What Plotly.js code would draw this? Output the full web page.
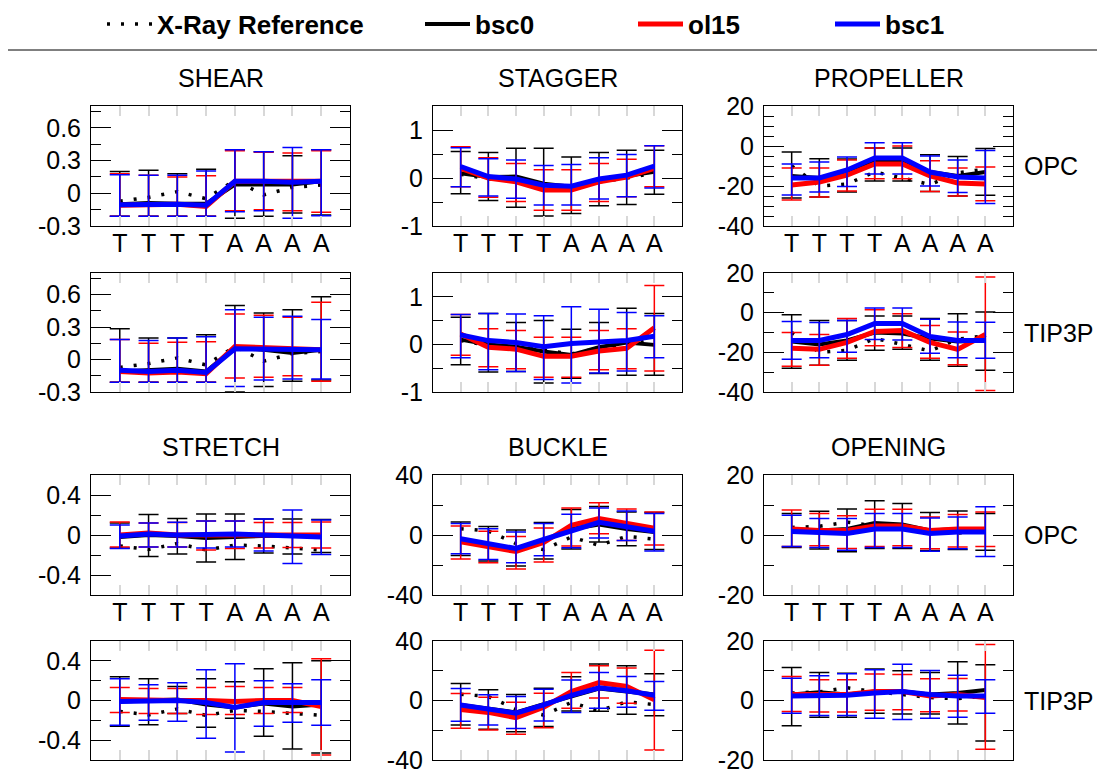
<!DOCTYPE html>
<html><head><meta charset="utf-8">
<script src="https://cdn.plot.ly/plotly-3.0.1.min.js"></script>
<style>html,body{margin:0;padding:0;background:#fff}#chart{width:1097px;height:774px}</style>
</head><body><div id="chart"></div>
<script>
// ---------- DATA ----------
const categories = ['T','T','T','T','A','A','A','A'];
const seriesNames = ['X-Ray Reference','bsc0','ol15','bsc1'];
const solvents = ['OPC','TIP3P'];

// X-ray reference (same in OPC and TIP3P panels)
const XRAY_SHEAR     = [-0.073,-0.037,0.015,-0.05,0.12,-0.015,0.055,0.075];
const XRAY_STAGGER   = [0.08,-0.02,-0.04,-0.12,-0.2,-0.08,0.0,0.1];
const XRAY_PROPELLER = [-10,-20,-19,-13,-16,-19.3,-13.4,-11.6];
const XRAY_STRETCH   = [-0.11,-0.145,-0.085,-0.15,-0.10,-0.11,-0.13,-0.15];
const XRAY_BUCKLE    = [4.2,2.7,-5.8,-9.8,-1.3,-6.9,-0.9,-2.7];
const XRAY_OPENING   = [2.5,2.9,4.3,3,2,1,0.6,1.5];

// SHEAR OPC
const SHEAR_OPC_bsc0 = [-0.10,-0.09,-0.095,-0.095,0.08,0.08,0.08,0.11];
const SHEAR_OPC_bsc0_hi = [0.20,0.21,0.18,0.22,0.40,0.38,0.345,0.40];
const SHEAR_OPC_bsc0_lo = [-0.21,-0.21,-0.21,-0.21,-0.23,-0.21,-0.18,-0.20];
const SHEAR_OPC_ol15 = [-0.11,-0.10,-0.10,-0.12,0.11,0.11,0.11,0.11];
const SHEAR_OPC_ol15_hi = [0.18,0.165,0.15,0.16,0.39,0.375,0.37,0.39];
const SHEAR_OPC_ol15_lo = [-0.21,-0.21,-0.21,-0.21,-0.16,-0.15,-0.16,-0.175];
const SHEAR_OPC_bsc1 = [-0.105,-0.10,-0.10,-0.11,0.11,0.11,0.10,0.11];
const SHEAR_OPC_bsc1_hi = [0.17,0.165,0.165,0.205,0.40,0.38,0.42,0.40];
const SHEAR_OPC_bsc1_lo = [-0.21,-0.21,-0.21,-0.21,-0.17,-0.16,-0.23,-0.205];
// SHEAR TIP3P
const SHEAR_TIP3P_bsc0 = [-0.11,-0.10,-0.085,-0.11,0.11,0.09,0.06,0.09];
const SHEAR_TIP3P_bsc0_hi = [0.285,0.20,0.20,0.23,0.50,0.43,0.46,0.58];
const SHEAR_TIP3P_bsc0_lo = [-0.21,-0.21,-0.21,-0.21,-0.30,-0.25,-0.20,-0.19];
const SHEAR_TIP3P_ol15 = [-0.11,-0.125,-0.115,-0.13,0.12,0.11,0.11,0.09];
const SHEAR_TIP3P_ol15_hi = [0.186,0.15,0.16,0.165,0.42,0.41,0.39,0.53];
const SHEAR_TIP3P_ol15_lo = [-0.21,-0.21,-0.21,-0.21,-0.17,-0.164,-0.15,-0.20];
const SHEAR_TIP3P_bsc1 = [-0.10,-0.11,-0.10,-0.12,0.10,0.10,0.10,0.09];
const SHEAR_TIP3P_bsc1_hi = [0.186,0.176,0.20,0.21,0.46,0.39,0.40,0.37];
const SHEAR_TIP3P_bsc1_lo = [-0.21,-0.21,-0.21,-0.21,-0.25,-0.19,-0.18,-0.18];

// STAGGER OPC
const STAGGER_OPC_bsc0 = [0.10,0.02,0.03,-0.12,-0.18,-0.05,0.04,0.13];
const STAGGER_OPC_bsc0_hi = [0.55,0.53,0.62,0.62,0.44,0.53,0.58,0.58];
const STAGGER_OPC_bsc0_lo = [-0.33,-0.47,-0.61,-0.79,-0.74,-0.58,-0.55,-0.34];
const STAGGER_OPC_ol15 = [0.20,0.00,-0.08,-0.25,-0.25,-0.08,0.02,0.20];
const STAGGER_OPC_ol15_hi = [0.65,0.42,0.30,0.17,0.17,0.30,0.39,0.67];
const STAGGER_OPC_ol15_lo = [-0.18,-0.40,-0.49,-0.67,-0.67,-0.49,-0.39,-0.18];
const STAGGER_OPC_bsc1 = [0.24,0.03,-0.02,-0.15,-0.17,-0.02,0.06,0.25];
const STAGGER_OPC_bsc1_hi = [0.63,0.40,0.375,0.26,0.28,0.42,0.49,0.67];
const STAGGER_OPC_bsc1_lo = [-0.18,-0.375,-0.42,-0.56,-0.56,-0.44,-0.39,-0.21];
// STAGGER TIP3P
const STAGGER_TIP3P_bsc0 = [0.10,0.00,-0.05,-0.15,-0.22,-0.06,0.04,-0.01];
const STAGGER_TIP3P_bsc0_hi = [0.57,0.65,0.46,0.50,0.32,0.46,0.76,0.65];
const STAGGER_TIP3P_bsc0_lo = [-0.43,-0.58,-0.57,-0.81,-0.71,-0.61,-0.65,-0.65];
const STAGGER_TIP3P_ol15 = [0.22,-0.06,-0.10,-0.25,-0.25,-0.14,-0.08,0.35];
const STAGGER_TIP3P_ol15_hi = [0.63,0.33,0.29,0.15,0.15,0.29,0.33,1.24];
const STAGGER_TIP3P_ol15_lo = [-0.23,-0.47,-0.51,-0.69,-0.69,-0.53,-0.51,-0.56];
const STAGGER_TIP3P_bsc1 = [0.20,0.08,0.04,-0.05,0.02,0.06,0.08,0.17];
const STAGGER_TIP3P_bsc1_hi = [0.63,0.65,0.64,0.60,0.79,0.74,0.67,0.60];
const STAGGER_TIP3P_bsc1_lo = [-0.28,-0.53,-0.57,-0.74,-0.81,-0.60,-0.56,-0.28];

// PROPELLER OPC
const PROPELLER_OPC_bsc0 = [-15,-16,-13,-7,-7,-13,-15,-13];
const PROPELLER_OPC_bsc0_hi = [-3,-6.4,-6.5,-1,-1,-4.4,-5.2,-1.3];
const PROPELLER_OPC_bsc0_lo = [-26,-25.5,-23,-17.5,-17.5,-22.8,-25,-24.6];
const PROPELLER_OPC_ol15 = [-19.5,-18,-14.5,-9,-9,-15,-18.5,-19];
const PROPELLER_OPC_ol15_hi = [-11,-11,-7,-1,0,-7.4,-11,-10.5];
const PROPELLER_OPC_ol15_lo = [-27,-25.5,-22.5,-16.4,-16.4,-22.8,-25,-27.4];
const PROPELLER_OPC_bsc1 = [-16,-16,-12,-6,-6,-13,-15.5,-16];
const PROPELLER_OPC_bsc1_hi = [-9,-8,-5.5,1.6,1.6,-5,-7,-2.3];
const PROPELLER_OPC_bsc1_lo = [-24.5,-23,-20.3,-14,-14,-20,-23.3,-28.7];
// PROPELLER TIP3P
const PROPELLER_TIP3P_bsc0 = [-14.5,-16,-14,-10,-10.5,-13,-14.5,-14];
const PROPELLER_TIP3P_bsc0_hi = [-1,-4,-4,-1.7,-1.7,-3,-0.5,0.3];
const PROPELLER_TIP3P_bsc0_lo = [-28,-26.5,-24,-19,-18.5,-24,-27,-29];
const PROPELLER_TIP3P_ol15 = [-18,-18.5,-15,-9.5,-9,-15,-18.5,-11];
const PROPELLER_TIP3P_ol15_hi = [-10,-11,-3,1.5,-0.5,-6.5,-9.7,18];
const PROPELLER_TIP3P_ol15_lo = [-27,-26.5,-23,-16.7,-17.5,-23,-26.3,-39.3];
const PROPELLER_TIP3P_bsc1 = [-14,-14,-11,-5.5,-5.5,-12,-14,-14];
const PROPELLER_TIP3P_bsc1_hi = [-4.5,-5,-4,2.3,2.3,-3.3,-4.7,-4.8];
const PROPELLER_TIP3P_bsc1_lo = [-23.5,-22.7,-20,-13.5,-13.8,-20.5,-22.7,-23];

// STRETCH OPC
const STRETCH_OPC_bsc0 = [-0.02,0.0,-0.01,-0.03,-0.02,-0.01,0.0,-0.01];
const STRETCH_OPC_bsc0_hi = [0.12,0.205,0.165,0.21,0.21,0.16,0.16,0.155];
const STRETCH_OPC_bsc0_lo = [-0.13,-0.215,-0.19,-0.27,-0.245,-0.18,-0.19,-0.175];
const STRETCH_OPC_ol15 = [0.0,0.02,0.0,0.0,0.0,0.0,0.0,0.0];
const STRETCH_OPC_ol15_hi = [0.13,0.12,0.125,0.14,0.14,0.125,0.125,0.13];
const STRETCH_OPC_ol15_lo = [-0.12,-0.12,-0.12,-0.15,-0.135,-0.13,-0.125,-0.13];
const STRETCH_OPC_bsc1 = [-0.01,0.01,0.0,0.01,0.01,0.0,-0.01,-0.02];
const STRETCH_OPC_bsc1_hi = [0.10,0.12,0.128,0.14,0.14,0.16,0.25,0.15];
const STRETCH_OPC_bsc1_lo = [-0.135,-0.12,-0.12,-0.13,-0.12,-0.16,-0.285,-0.195];
// STRETCH TIP3P
const STRETCH_TIP3P_bsc0 = [-0.01,0.0,0.01,-0.04,-0.07,-0.03,-0.06,-0.04];
const STRETCH_TIP3P_bsc0_hi = [0.24,0.22,0.14,0.22,0.19,0.32,0.38,0.40];
const STRETCH_TIP3P_bsc0_lo = [-0.26,-0.245,-0.13,-0.27,-0.18,-0.36,-0.49,-0.53];
const STRETCH_TIP3P_ol15 = [0.01,0.0,0.0,0.0,-0.01,0.0,0.0,-0.06];
const STRETCH_TIP3P_ol15_hi = [0.13,0.12,0.12,0.13,0.14,0.13,0.13,0.42];
const STRETCH_TIP3P_ol15_lo = [-0.12,-0.13,-0.13,-0.14,-0.14,-0.13,-0.12,-0.55];
const STRETCH_TIP3P_bsc1 = [-0.01,-0.01,0.0,-0.02,-0.07,-0.02,-0.02,-0.02];
const STRETCH_TIP3P_bsc1_hi = [0.22,0.16,0.18,0.31,0.37,0.20,0.17,0.21];
const STRETCH_TIP3P_bsc1_lo = [-0.25,-0.20,-0.21,-0.38,-0.52,-0.26,-0.22,-0.25];

// BUCKLE OPC
const BUCKLE_OPC_bsc0 = [-3,-6.5,-9,-3.5,4,7,4,2];
const BUCKLE_OPC_bsc0_hi = [8.7,5.6,3.4,8.3,17,19,15.4,15];
const BUCKLE_OPC_bsc0_lo = [-13.6,-17.4,-20.6,-16,-9.4,-4.7,-7.2,-9.6];
const BUCKLE_OPC_ol15 = [-4.5,-8,-11,-5,6.5,11,8,4.5];
const BUCKLE_OPC_ol15_hi = [6,2.5,-1,4.7,18,21.5,17.4,15.4];
const BUCKLE_OPC_ol15_lo = [-16,-18.5,-22.6,-18,-7.4,0.9,-3.6,-6.7];
const BUCKLE_OPC_bsc1 = [-2.5,-6,-9,-3,3,8.5,5.5,2.5];
const BUCKLE_OPC_bsc1_hi = [7.6,4.2,2,7.6,13.8,18,16,14.3];
const BUCKLE_OPC_bsc1_lo = [-12.5,-16.3,-18.5,-13.9,-8.5,-2,-3.6,-10.7];
// BUCKLE TIP3P
const BUCKLE_TIP3P_bsc0 = [-3,-5.5,-8,-2.5,3,8,6,4];
const BUCKLE_TIP3P_bsc0_hi = [11.5,7.2,4,8.3,16,24.5,23.4,18];
const BUCKLE_TIP3P_bsc0_lo = [-16.4,-19.3,-21,-17.5,-7,-7.2,-9.2,-10.3];
const BUCKLE_TIP3P_ol15 = [-6,-8,-11.5,-4.5,6,12,9.5,0.5];
const BUCKLE_TIP3P_ol15_hi = [4.7,2.2,-1.1,4.9,18.9,23.4,21.8,33.7];
const BUCKLE_TIP3P_ol15_lo = [-18.7,-19.8,-22.7,-18.4,-5.2,1.6,-1.8,-33.3];
const BUCKLE_TIP3P_bsc1 = [-3,-6,-8.5,-3,3.5,8.5,6.5,3.5];
const BUCKLE_TIP3P_bsc1_hi = [8,3.8,2.7,7.6,13.7,18.9,16.2,12.8];
const BUCKLE_TIP3P_bsc1_lo = [-14,-16.4,-18.9,-13.7,-8.1,-5.2,-4.5,-6.5];

// OPENING OPC
const OPENING_OPC_bsc0 = [2,1.5,2,4,3.5,1.5,2,1.5];
const OPENING_OPC_bsc0_hi = [7.2,7.9,8.7,11.4,10.5,7.5,8,7.2];
const OPENING_OPC_bsc0_lo = [-4.2,-4.7,-5.6,-4.5,-4.5,-5.2,-4.8,-5.1];
const OPENING_OPC_ol15 = [2,1.5,1.5,3,3,1.5,2,2];
const OPENING_OPC_ol15_hi = [8.3,7.2,6.4,8.6,8.6,6,6.8,7.7];
const OPENING_OPC_ol15_lo = [-3.8,-3.6,-4.5,-3.8,-3.6,-4.6,-4,-3.8];
const OPENING_OPC_bsc1 = [1.2,0.8,0.5,2,2,0.5,1,1];
const OPENING_OPC_bsc1_hi = [6.6,5.5,5.5,7.2,7.2,5.7,6,9.4];
const OPENING_OPC_bsc1_lo = [-3.8,-4.2,-5.1,-4.2,-4.2,-5.4,-4.6,-7.2];
// OPENING TIP3P
const OPENING_TIP3P_bsc0 = [2,2.8,2,3,3,2,2.5,3.5];
const OPENING_TIP3P_bsc0_hi = [11.1,9.4,9.2,10.6,10,9.4,13,12];
const OPENING_TIP3P_bsc0_lo = [-8.5,-5.6,-5.6,-4.3,-4.5,-4.5,-7.9,-13.6];
const OPENING_TIP3P_ol15 = [2,2,2,3,3,1.5,2,1];
const OPENING_TIP3P_ol15_hi = [8.1,7,7,8.9,8.7,7.3,7.4,18.8];
const OPENING_TIP3P_ol15_lo = [-3.7,-3.9,-3.9,-3.3,-3.1,-3.8,-3.5,-16.4];
const OPENING_TIP3P_bsc1 = [1.5,1.5,1.8,2.5,3,2,1.5,1.5];
const OPENING_TIP3P_bsc1_hi = [7.5,8.3,9,10.3,12.2,10.1,8.5,7];
const OPENING_TIP3P_bsc1_lo = [-4.3,-5,-5,-6,-6.4,-6,-5.6,-4.3];

// y-axis tick labels
const SHEAR_ticks = [-0.3,0,0.3,0.6];      const SHEAR_ticktext = ['-0.3','0','0.3','0.6'];
const STAGGER_ticks = [-1,0,1];            const STAGGER_ticktext = ['-1','0','1'];
const PROPELLER_ticks = [-40,-20,0,20];    const PROPELLER_ticktext = ['-40','-20','0','20'];
const STRETCH_ticks = [-0.4,0,0.4];        const STRETCH_ticktext = ['-0.4','0','0.4'];
const BUCKLE_ticks = [-40,0,40];           const BUCKLE_ticktext = ['-40','0','40'];
const OPENING_ticks = [-20,0,20];          const OPENING_ticktext = ['-20','0','20'];

// ---------- LAYOUT HELPERS ----------
const W = 1097, H = 774;
const FONT = 'Liberation Sans, Arial, sans-serif';
const colPx = [[91,350],[433,682],[764,1013]];
const rowPx = [[106,226],[273,392],[475,595],[641,760]];
const xd = c => [colPx[c][0]/W, colPx[c][1]/W];
const yd = r => [1 - rowPx[r][1]/H, 1 - rowPx[r][0]/H];

const panels = [
 {t:'SHEAR',s:'OPC',r:0,c:0,xr:XRAY_SHEAR,range:[-0.3,0.8],tv:SHEAR_ticks,tt:SHEAR_ticktext,minor:[-0.15,0.15,0.45,0.75],
  d:{bsc0:[SHEAR_OPC_bsc0,SHEAR_OPC_bsc0_hi,SHEAR_OPC_bsc0_lo],ol15:[SHEAR_OPC_ol15,SHEAR_OPC_ol15_hi,SHEAR_OPC_ol15_lo],bsc1:[SHEAR_OPC_bsc1,SHEAR_OPC_bsc1_hi,SHEAR_OPC_bsc1_lo]}},
 {t:'STAGGER',s:'OPC',r:0,c:1,xr:XRAY_STAGGER,range:[-1,1.5],tv:STAGGER_ticks,tt:STAGGER_ticktext,minor:[-0.5,0.5],
  d:{bsc0:[STAGGER_OPC_bsc0,STAGGER_OPC_bsc0_hi,STAGGER_OPC_bsc0_lo],ol15:[STAGGER_OPC_ol15,STAGGER_OPC_ol15_hi,STAGGER_OPC_ol15_lo],bsc1:[STAGGER_OPC_bsc1,STAGGER_OPC_bsc1_hi,STAGGER_OPC_bsc1_lo]}},
 {t:'PROPELLER',s:'OPC',r:0,c:2,xr:XRAY_PROPELLER,range:[-40,20],tv:PROPELLER_ticks,tt:PROPELLER_ticktext,minor:[-35,-30,-25,-15,-10,-5,5,10,15],
  d:{bsc0:[PROPELLER_OPC_bsc0,PROPELLER_OPC_bsc0_hi,PROPELLER_OPC_bsc0_lo],ol15:[PROPELLER_OPC_ol15,PROPELLER_OPC_ol15_hi,PROPELLER_OPC_ol15_lo],bsc1:[PROPELLER_OPC_bsc1,PROPELLER_OPC_bsc1_hi,PROPELLER_OPC_bsc1_lo]}},
 {t:'SHEAR',s:'TIP3P',r:1,c:0,xr:XRAY_SHEAR,range:[-0.3,0.8],tv:SHEAR_ticks,tt:SHEAR_ticktext,minor:[-0.15,0.15,0.45,0.75],
  d:{bsc0:[SHEAR_TIP3P_bsc0,SHEAR_TIP3P_bsc0_hi,SHEAR_TIP3P_bsc0_lo],ol15:[SHEAR_TIP3P_ol15,SHEAR_TIP3P_ol15_hi,SHEAR_TIP3P_ol15_lo],bsc1:[SHEAR_TIP3P_bsc1,SHEAR_TIP3P_bsc1_hi,SHEAR_TIP3P_bsc1_lo]}},
 {t:'STAGGER',s:'TIP3P',r:1,c:1,xr:XRAY_STAGGER,range:[-1,1.5],tv:STAGGER_ticks,tt:STAGGER_ticktext,minor:[-0.5,0.5],
  d:{bsc0:[STAGGER_TIP3P_bsc0,STAGGER_TIP3P_bsc0_hi,STAGGER_TIP3P_bsc0_lo],ol15:[STAGGER_TIP3P_ol15,STAGGER_TIP3P_ol15_hi,STAGGER_TIP3P_ol15_lo],bsc1:[STAGGER_TIP3P_bsc1,STAGGER_TIP3P_bsc1_hi,STAGGER_TIP3P_bsc1_lo]}},
 {t:'PROPELLER',s:'TIP3P',r:1,c:2,xr:XRAY_PROPELLER,range:[-40,20],tv:PROPELLER_ticks,tt:PROPELLER_ticktext,minor:[-30,-10,10],
  d:{bsc0:[PROPELLER_TIP3P_bsc0,PROPELLER_TIP3P_bsc0_hi,PROPELLER_TIP3P_bsc0_lo],ol15:[PROPELLER_TIP3P_ol15,PROPELLER_TIP3P_ol15_hi,PROPELLER_TIP3P_ol15_lo],bsc1:[PROPELLER_TIP3P_bsc1,PROPELLER_TIP3P_bsc1_hi,PROPELLER_TIP3P_bsc1_lo]}},
 {t:'STRETCH',s:'OPC',r:2,c:0,xr:XRAY_STRETCH,range:[-0.6,0.6],tv:STRETCH_ticks,tt:STRETCH_ticktext,minor:[-0.2,0.2],
  d:{bsc0:[STRETCH_OPC_bsc0,STRETCH_OPC_bsc0_hi,STRETCH_OPC_bsc0_lo],ol15:[STRETCH_OPC_ol15,STRETCH_OPC_ol15_hi,STRETCH_OPC_ol15_lo],bsc1:[STRETCH_OPC_bsc1,STRETCH_OPC_bsc1_hi,STRETCH_OPC_bsc1_lo]}},
 {t:'BUCKLE',s:'OPC',r:2,c:1,xr:XRAY_BUCKLE,range:[-40,40],tv:BUCKLE_ticks,tt:BUCKLE_ticktext,minor:[-20,20],
  d:{bsc0:[BUCKLE_OPC_bsc0,BUCKLE_OPC_bsc0_hi,BUCKLE_OPC_bsc0_lo],ol15:[BUCKLE_OPC_ol15,BUCKLE_OPC_ol15_hi,BUCKLE_OPC_ol15_lo],bsc1:[BUCKLE_OPC_bsc1,BUCKLE_OPC_bsc1_hi,BUCKLE_OPC_bsc1_lo]}},
 {t:'OPENING',s:'OPC',r:2,c:2,xr:XRAY_OPENING,range:[-20,20],tv:OPENING_ticks,tt:OPENING_ticktext,minor:[-10,10],
  d:{bsc0:[OPENING_OPC_bsc0,OPENING_OPC_bsc0_hi,OPENING_OPC_bsc0_lo],ol15:[OPENING_OPC_ol15,OPENING_OPC_ol15_hi,OPENING_OPC_ol15_lo],bsc1:[OPENING_OPC_bsc1,OPENING_OPC_bsc1_hi,OPENING_OPC_bsc1_lo]}},
 {t:'STRETCH',s:'TIP3P',r:3,c:0,xr:XRAY_STRETCH,range:[-0.6,0.6],tv:STRETCH_ticks,tt:STRETCH_ticktext,minor:[-0.2,0.2],
  d:{bsc0:[STRETCH_TIP3P_bsc0,STRETCH_TIP3P_bsc0_hi,STRETCH_TIP3P_bsc0_lo],ol15:[STRETCH_TIP3P_ol15,STRETCH_TIP3P_ol15_hi,STRETCH_TIP3P_ol15_lo],bsc1:[STRETCH_TIP3P_bsc1,STRETCH_TIP3P_bsc1_hi,STRETCH_TIP3P_bsc1_lo]}},
 {t:'BUCKLE',s:'TIP3P',r:3,c:1,xr:XRAY_BUCKLE,range:[-40,40],tv:BUCKLE_ticks,tt:BUCKLE_ticktext,minor:[-20,20],
  d:{bsc0:[BUCKLE_TIP3P_bsc0,BUCKLE_TIP3P_bsc0_hi,BUCKLE_TIP3P_bsc0_lo],ol15:[BUCKLE_TIP3P_ol15,BUCKLE_TIP3P_ol15_hi,BUCKLE_TIP3P_ol15_lo],bsc1:[BUCKLE_TIP3P_bsc1,BUCKLE_TIP3P_bsc1_hi,BUCKLE_TIP3P_bsc1_lo]}},
 {t:'OPENING',s:'TIP3P',r:3,c:2,xr:XRAY_OPENING,range:[-20,20],tv:OPENING_ticks,tt:OPENING_ticktext,minor:[-10,10],
  d:{bsc0:[OPENING_TIP3P_bsc0,OPENING_TIP3P_bsc0_hi,OPENING_TIP3P_bsc0_lo],ol15:[OPENING_TIP3P_ol15,OPENING_TIP3P_ol15_hi,OPENING_TIP3P_ol15_lo],bsc1:[OPENING_TIP3P_bsc1,OPENING_TIP3P_bsc1_hi,OPENING_TIP3P_bsc1_lo]}}
];

const style = {
  bsc0: {color:'#000000', width:4, legend:'legend2'},
  ol15: {color:'#ff0000', width:5, legend:'legend3'},
  bsc1: {color:'#0000ff', width:5, legend:'legend4'}
};
const xIdx = categories.map((_, i) => i);

const traces = [];
const layout = {
  width: W, height: H,
  margin: {l:0, r:0, t:0, b:0},
  paper_bgcolor: '#ffffff', plot_bgcolor: '#ffffff',
  font: {family: FONT, color: '#000', size: 25},
  showlegend: true,
  annotations: [], shapes: []
};

panels.forEach((p, i) => {
  const k = i + 1;
  const xa = 'x' + (k === 1 ? '' : k), ya = 'y' + (k === 1 ? '' : k);
  const xkey = 'xaxis' + (k === 1 ? '' : k), ykey = 'yaxis' + (k === 1 ? '' : k);
  const showX = (p.s === 'OPC');
  layout[xkey] = {
    domain: xd(p.c), anchor: ya, range: [-1, 8], fixedrange: true,
    tickmode: 'array', tickvals: xIdx, ticktext: categories,
    showticklabels: showX, tickfont: {size: 25, family: FONT, color: '#000'},
    ticks: 'inside', ticklen: 10, tickwidth: 2, tickcolor: '#d8d8d8',
    showline: true, linecolor: '#000', linewidth: 1, mirror: 'ticks',
    showgrid: false, zeroline: false, automargin: false, ticklabelstandoff: -5
  };
  layout[ykey] = {
    domain: yd(p.r), anchor: xa, range: p.range, fixedrange: true,
    tickmode: 'array', tickvals: p.tv, ticktext: p.tt,
    tickfont: {size: 25, family: FONT, color: '#000'},
    ticks: 'inside', ticklen: 20, tickwidth: 1, tickcolor: '#000',
    minor: {tickmode: 'array', tickvals: p.minor, ticks: 'inside', ticklen: 10, tickwidth: 1, tickcolor: '#000', showgrid: false},
    showline: true, linecolor: '#000', linewidth: 1, mirror: 'ticks',
    showgrid: false, zeroline: false, automargin: false, ticklabelstandoff: 4
  };

  traces.push({
    type: 'scatter', mode: 'lines', x: xIdx, y: p.xr, xaxis: xa, yaxis: ya,
    name: seriesNames[0], legend: 'legend', showlegend: i === 0,
    line: {color: '#000', width: 3.5, dash: '3px,11px'}, hoverinfo: 'skip'
  });
  ['bsc0','ol15','bsc1'].forEach(sn => {
    const [m, hi, lo] = p.d[sn];
    const st = style[sn];
    traces.push({
      type: 'scatter', mode: 'lines', x: xIdx, y: m, xaxis: xa, yaxis: ya,
      name: sn, legend: st.legend, showlegend: i === 0,
      line: {color: st.color, width: st.width},
      error_y: {type: 'data', symmetric: false,
        array: hi.map((v, j) => v - m[j]), arrayminus: m.map((v, j) => v - lo[j]),
        color: st.color, thickness: 1.5, width: 10},
      hoverinfo: 'skip'
    });
  });

  if (p.s === 'OPC') {
    layout.annotations.push({
      text: p.t, xref: 'paper', yref: 'paper', showarrow: false,
      x: (colPx[p.c][0] + colPx[p.c][1]) / 2 / W, y: 1 - (rowPx[p.r][0] - 28) / H,
      xanchor: 'center', yanchor: 'middle', font: {size: 25, family: FONT, color: '#000'}
    });
  }
  if (p.c === 2) {
    layout.annotations.push({
      text: p.s, xref: 'paper', yref: 'paper', showarrow: false,
      x: 1022 / W, y: 1 - ((rowPx[p.r][0] + rowPx[p.r][1]) / 2) / H,
      xanchor: 'left', yanchor: 'middle', font: {size: 25, family: FONT, color: '#000'}
    });
  }
});

// header rule
layout.shapes.push({type: 'line', xref: 'paper', yref: 'paper', x0: 8 / W, x1: 1, y0: 1 - 50 / H, y1: 1 - 50 / H,
  line: {color: '#000', width: 1}});

// legends (one per series, placed along the header)
const legendX = [102, 420, 633, 830];
['legend','legend2','legend3','legend4'].forEach((lk, i) => {
  layout[lk] = {
    orientation: 'h', x: legendX[i] / W, xanchor: 'left', y: 1 - 24 / H, yanchor: 'middle',
    font: {size: 26, family: FONT, color: '#000', weight: 'bold'},
    bgcolor: 'rgba(0,0,0,0)', borderwidth: 0, itemwidth: 45
  };
});

Plotly.newPlot('chart', traces, layout, {staticPlot: true, displayModeBar: false});
</script>
</body></html>
